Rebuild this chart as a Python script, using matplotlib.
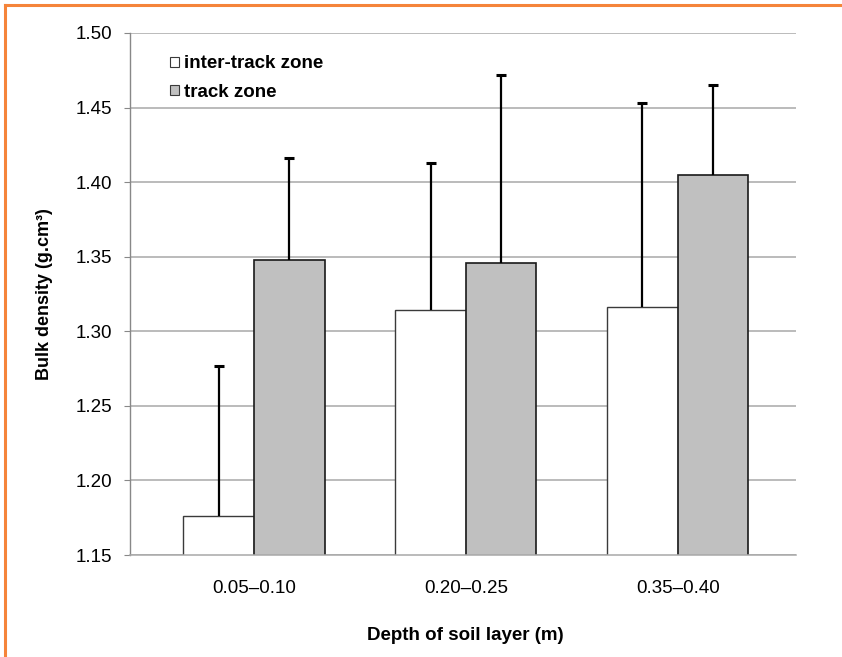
import numpy as np
import matplotlib.pyplot as plt
from matplotlib.patches import Patch
from matplotlib.lines import Line2D

# mean bulk density and standard deviation per soil layer
depths = ['0.05–0.10', '0.20–0.25', '0.35–0.40']
inter_mean = [1.176, 1.314, 1.316]
inter_sd = [0.101, 0.099, 0.137]
track_mean = [1.348, 1.346, 1.405]
track_sd = [0.068, 0.126, 0.060]
series_names = ['inter-track zone', 'track zone']
yticks = [1.15, 1.20, 1.25, 1.30, 1.35, 1.40, 1.45, 1.50]

plt.rcParams['font.family'] = ['Liberation Sans', 'DejaVu Sans']

W, H = 842, 657
fig = plt.figure(figsize=(W / 100, H / 100), dpi=100)
ax = fig.add_axes([130 / W, 1 - 555 / H, 666 / W, 522 / H])

x = np.arange(len(depths))
w = 1 / 3
x_inter = x - w / 2
x_track = x + w / 2

ax.bar(x_inter, inter_mean, w, color='white', edgecolor='#3a3a3a', lw=1.0, zorder=2)
ax.bar(x_track, track_mean, w, color='#c0c0c0', edgecolor='#1a1a1a', lw=1.2, zorder=2)

# upper error bars only
for xs, m, sd in [(x_inter, inter_mean, inter_sd), (x_track, track_mean, track_sd)]:
    top = np.array(m) + np.array(sd)
    ax.vlines(xs, m, top, color='black', lw=1.6, zorder=3)
    ax.plot(xs, top, ls='none', marker='_', ms=6.5, mew=2.2, color='black', zorder=3)

ax.set_ylim(1.15, 1.50)
ax.set_xlim(-0.585, 2.558)
ax.set_yticks(yticks)
ax.set_yticklabels([f'{v:.2f}' for v in yticks])
ax.set_xticks(x)
ax.set_xticklabels(depths)
ax.yaxis.grid(True, color='#a8a8a8', lw=1.1)
ax.set_axisbelow(True)

for s in ['top', 'right']:
    ax.spines[s].set_visible(False)
ax.spines['left'].set_color('#888888')
ax.spines['bottom'].set_color('#a8a8a8')
ax.spines['left'].set_linewidth(1.0)
ax.spines['bottom'].set_linewidth(1.1)

ax.tick_params(axis='y', labelsize=13.5, length=4, color='#888888', pad=9)
ax.tick_params(axis='x', labelsize=13.5, length=0, pad=18)

ax.set_xlabel('Depth of soil layer (m)', fontsize=13.5, fontweight='bold')
ax.set_ylabel('Bulk density (g.cm³)', fontsize=13, fontweight='bold')
ax.xaxis.set_label_coords((465 - 130) / 666, (555 - 635) / 522)
ax.xaxis.label.set_va('center')
ax.yaxis.set_label_coords((44 - 130) / 666, 0.5)
ax.yaxis.label.set_va('center')

handles = [Patch(facecolor='white', edgecolor='#3a3a3a', lw=0.8),
           Patch(facecolor='#c0c0c0', edgecolor='#3a3a3a', lw=0.8)]
leg = fig.legend(handles, series_names, loc='upper left',
                 bbox_to_anchor=(161 / W, 1 - 46 / H), bbox_transform=fig.transFigure,
                 frameon=False, borderpad=0, handlelength=0.45, handleheight=0.45,
                 handletextpad=0.3, labelspacing=0.6,
                 prop={'size': 13.5, 'weight': 'bold'})

# orange frame along the top and left edges
fig.add_artist(Line2D([5 / W, 1], [1 - 5 / H, 1 - 5 / H], transform=fig.transFigure,
                      color='#f5843a', lw=2.2))
fig.add_artist(Line2D([5 / W, 5 / W], [0, 1 - 5 / H], transform=fig.transFigure,
                      color='#f5843a', lw=2.2))

fig.savefig('out.png', dpi=100)
